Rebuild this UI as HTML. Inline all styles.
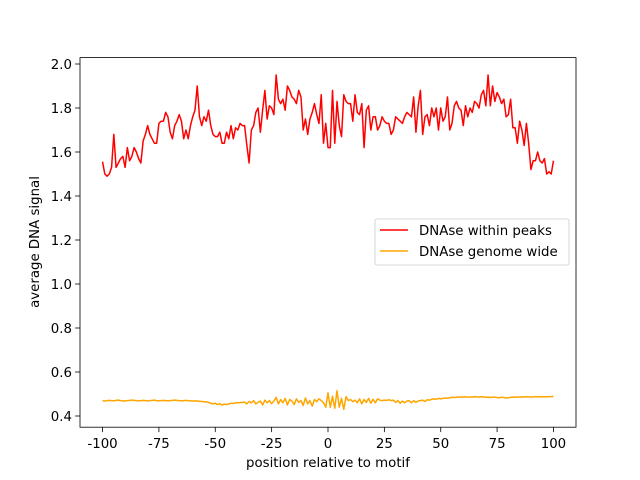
<!DOCTYPE html>
<html><head><meta charset="utf-8"><style>
body{margin:0;background:#fff;}
svg{display:block;font-family:"DejaVu Sans","Liberation Sans",sans-serif;}
</style></head><body>
<svg id="chart" width="640" height="480">
<rect x="0" y="0" width="640" height="480" fill="#fff"/>
<g id="plot"></g>
</svg>
<script>
const xTicks=[-100,-75,-50,-25,0,25,50,75,100];
const yTicks=[0.4,0.6,0.8,1.0,1.2,1.4,1.6,1.8,2.0];
const yTickLabels=["0.4","0.6","0.8","1.0","1.2","1.4","1.6","1.8","2.0"];
const peaks=[1.556,1.50,1.49,1.50,1.53,1.68,1.53,1.55,1.57,1.58,1.53,1.62,1.56,1.58,1.62,1.60,1.57,1.55,1.65,1.68,
1.72,1.68,1.66,1.64,1.64,1.73,1.74,1.74,1.78,1.76,1.69,1.66,1.72,1.74,1.77,1.74,1.66,1.70,1.66,1.72,
1.76,1.79,1.90,1.76,1.72,1.76,1.74,1.79,1.72,1.68,1.67,1.67,1.69,1.64,1.64,1.69,1.66,1.72,1.66,1.71,
1.70,1.73,1.72,1.72,1.63,1.55,1.70,1.72,1.78,1.80,1.69,1.79,1.88,1.75,1.81,1.80,1.77,1.95,1.84,1.82,
1.84,1.79,1.90,1.88,1.85,1.84,1.82,1.88,1.85,1.70,1.75,1.68,1.75,1.78,1.82,1.77,1.73,1.86,1.64,1.73,
1.62,1.62,1.88,1.64,1.83,1.72,1.67,1.86,1.83,1.82,1.82,1.74,1.86,1.78,1.77,1.82,1.62,1.79,1.81,1.70,
1.76,1.76,1.70,1.72,1.76,1.74,1.73,1.73,1.68,1.70,1.76,1.75,1.74,1.73,1.76,1.78,1.77,1.76,1.85,1.69,
1.81,1.88,1.68,1.76,1.77,1.72,1.80,1.76,1.80,1.70,1.80,1.74,1.76,1.85,1.70,1.73,1.81,1.83,1.80,1.79,
1.72,1.81,1.76,1.80,1.78,1.83,1.82,1.80,1.86,1.88,1.81,1.95,1.81,1.90,1.83,1.87,1.85,1.82,1.84,1.76,
1.77,1.84,1.71,1.71,1.64,1.74,1.70,1.63,1.73,1.64,1.52,1.56,1.56,1.60,1.56,1.55,1.57,1.50,1.51,1.50,1.56];
const genome=[0.470,0.468,0.470,0.471,0.470,0.469,0.471,0.472,0.470,0.469,0.468,0.470,0.471,0.472,0.471,0.470,0.469,0.470,0.471,0.470,
0.469,0.470,0.471,0.472,0.470,0.469,0.470,0.471,0.470,0.469,0.470,0.471,0.472,0.471,0.470,0.469,0.470,0.471,0.470,0.469,
0.468,0.469,0.468,0.467,0.466,0.465,0.464,0.462,0.458,0.455,0.458,0.452,0.456,0.450,0.454,0.452,0.455,0.458,0.457,0.460,
0.460,0.461,0.462,0.463,0.455,0.466,0.460,0.470,0.455,0.462,0.468,0.450,0.472,0.460,0.470,0.456,0.468,0.485,0.455,0.475,
0.460,0.480,0.450,0.475,0.468,0.452,0.478,0.462,0.470,0.448,0.482,0.455,0.470,0.445,0.475,0.465,0.478,0.470,0.460,0.440,
0.505,0.440,0.490,0.435,0.515,0.440,0.480,0.430,0.488,0.470,0.475,0.465,0.472,0.460,0.478,0.455,0.475,0.462,0.480,0.458,
0.476,0.460,0.478,0.472,0.470,0.472,0.471,0.474,0.470,0.472,0.462,0.470,0.458,0.468,0.460,0.468,0.470,0.460,0.470,0.462,
0.468,0.470,0.472,0.466,0.474,0.472,0.476,0.478,0.476,0.480,0.478,0.480,0.482,0.481,0.483,0.485,0.484,0.486,0.485,0.487,
0.486,0.488,0.485,0.487,0.486,0.488,0.487,0.486,0.488,0.487,0.485,0.486,0.484,0.485,0.486,0.484,0.483,0.485,0.484,0.482,
0.483,0.485,0.486,0.485,0.487,0.486,0.487,0.486,0.488,0.487,0.486,0.487,0.488,0.487,0.488,0.487,0.488,0.487,0.488,0.488,0.489];
const L=80,R=576,T=57.6,B=427.2;
const xmin=-110,xmax=110;
const FS=13.33;
function sx(v){return L+(v-xmin)/(xmax-xmin)*(R-L);}
function sy(v){return 416-(v-0.4)/1.6*352;}
const ns="http://www.w3.org/2000/svg";
const g=document.getElementById('plot');
function mk(tag,attrs,parent){const e=document.createElementNS(ns,tag);for(const k in attrs)e.setAttribute(k,attrs[k]);(parent||g).appendChild(e);return e;}
function series(arr,color,name){
  const pts=arr.map((v,i)=>sx(-100+i).toFixed(2)+","+sy(v).toFixed(2)).join(" ");
  const p=mk('polyline',{points:pts,fill:'none',stroke:color,'stroke-width':1.5,'stroke-linejoin':'round'});
  
  
}
series(peaks,'#ff0000','series-dnase-within-peaks');
series(genome,'#ffa500','series-dnase-genome-wide');
const frame=mk('rect',{x:L,y:T,width:R-L,height:B-T,fill:'none',stroke:'#000','stroke-width':0.8});


xTicks.forEach(t=>{
  const x=sx(t);
  mk('line',{x1:x,x2:x,y1:B,y2:B+4.9,stroke:'#000','stroke-width':0.8});
  const tx=mk('text',{x:x,y:B+21,'text-anchor':'middle','font-size':FS,fill:'#000'});
  tx.textContent=String(t);
  
  
});
yTicks.forEach((t,i)=>{
  const y=sy(t);
  mk('line',{x1:L-4.9,x2:L,y1:y,y2:y,stroke:'#000','stroke-width':0.8});
  const tx=mk('text',{x:L-8,y:y+4.8,'text-anchor':'end','font-size':FS,fill:'#000'});
  tx.textContent=yTickLabels[i];
  
  
});
const xt=mk('text',{x:(L+R)/2,y:467,'text-anchor':'middle','font-size':FS,fill:'#000'});
xt.textContent='position relative to motif';


const yt=mk('text',{x:0,y:0,'text-anchor':'middle','font-size':FS,fill:'#000',transform:'translate(39,242) rotate(-90)'});
yt.textContent='average DNA signal';


const lg=mk('g',{});


mk('rect',{x:375,y:219,width:194,height:46,rx:2,fill:'#fff','fill-opacity':0.8,stroke:'#ccc','stroke-width':0.8},lg);
mk('line',{x1:380,x2:408,y1:230,y2:230,stroke:'#ff0000','stroke-width':1.5},lg);
mk('line',{x1:380,x2:408,y1:251,y2:251,stroke:'#ffa500','stroke-width':1.5},lg);
const l1=mk('text',{x:419,y:235,'font-size':FS,fill:'#000'},lg);
l1.textContent='DNAse within peaks';


const l2=mk('text',{x:419,y:256,'font-size':FS,fill:'#000'},lg);
l2.textContent='DNAse genome wide';


</script>
</body></html>
